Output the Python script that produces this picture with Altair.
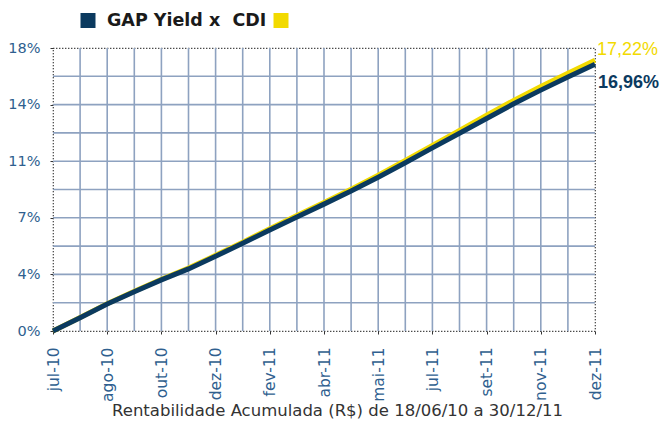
import altair as alt
import pandas as pd

# --- data ---
positions = list(range(21))
tick_labels = ["jul-10", "", "ago-10", "", "out-10", "", "dez-10", "", "fev-11", "",
               "abr-11", "", "mai-11", "", "jul-11", "", "set-11", "", "nov-11", "", "dez-11"]
gap_yield = [0.0, 0.85, 1.72, 2.50, 3.25, 3.95, 4.75, 5.58, 6.42, 7.25, 8.07,
             8.90, 9.78, 10.70, 11.65, 12.58, 13.52, 14.45, 15.32, 16.15, 16.96]
cdi = [0.0, 0.86, 1.74, 2.53, 3.29, 4.00, 4.81, 5.65, 6.50, 7.34, 8.17,
       9.02, 9.91, 10.85, 11.81, 12.76, 13.72, 14.67, 15.56, 16.40, 17.22]
grid_x = list(range(1, 20))
grid_y = [1.8, 3.6, 5.4, 7.2, 9.0, 10.8, 12.6, 14.4, 16.2]
y_ticks = [0, 1.8, 3.6, 5.4, 7.2, 9.0, 10.8, 12.6, 14.4, 16.2, 18]

NAVY = "#0b3a5f"
YELLOW = "#f2da00"
GRID = "#8ea2c0"
LABEL = "#2f5f8f"
FONT = "DejaVu Sans"
NUM_FONT = "Liberation Sans"

df = pd.DataFrame({"pos": positions, "gap": gap_yield, "cdi": cdi})
gx = pd.DataFrame({"x": grid_x})
gy = pd.DataFrame({"y": grid_y})

label_expr = "[" + ",".join('"%s"' % t for t in tick_labels) + "][datum.value]"

xscale = alt.Scale(domain=[0, 20], nice=False, zero=False)
yscale = alt.Scale(domain=[0, 18], nice=False)

x_axis = alt.Axis(values=positions, labelExpr=label_expr, labelAngle=270,
                  labelAlign="right", labelBaseline="middle", labelPadding=13,
                  labelColor=LABEL, labelFontSize=15.5, labelFont=FONT,
                  grid=False, domain=False, tickSize=3, tickColor="#333",
                  title="Rentabilidade Acumulada (R$) de 18/06/10 a 30/12/11",
                  titleFont=FONT, titleFontSize=16.5, titleFontWeight="normal",
                  titleColor="#333333", titleX=284, titleY=71, titleAlign="center",
                  titleBaseline="top")
y_axis = alt.Axis(values=y_ticks,
                  labelExpr="round(datum.value/1.8) % 2 == 0 ? format(datum.value, '.0f') + '%' : ''",
                  labelColor=LABEL, labelFontSize=14.5, labelFont=FONT, labelPadding=10,
                  grid=False, domain=False, tickSize=3, tickColor="#333", title=None)

vgrid = alt.Chart(gx).mark_rule(color=GRID, strokeWidth=1.6).encode(
    x=alt.X("x:Q", scale=xscale, axis=x_axis))
hgrid = alt.Chart(gy).mark_rule(color=GRID, strokeWidth=1.6).encode(
    y=alt.Y("y:Q", scale=yscale, axis=y_axis))

cdi_line = alt.Chart(df).mark_line(color=YELLOW, strokeWidth=5).encode(
    x=alt.X("pos:Q", scale=xscale), y=alt.Y("cdi:Q", scale=yscale))
gap_line = alt.Chart(df).mark_line(color=NAVY, strokeWidth=5).encode(
    x=alt.X("pos:Q", scale=xscale), y=alt.Y("gap:Q", scale=yscale))

last = df.tail(1).copy()
last["cdi_txt"] = last["cdi"].map(lambda v: f"{v:.2f}".replace(".", ",") + "%")
last["gap_txt"] = last["gap"].map(lambda v: f"{v:.2f}".replace(".", ",") + "%")

cdi_lbl = alt.Chart(last).mark_text(align="left", baseline="middle", dx=2, dy=-10,
                                    fontSize=18, font=NUM_FONT, color=YELLOW).encode(
    x=alt.X("pos:Q", scale=xscale), y=alt.Y("cdi:Q", scale=yscale), text="cdi_txt:N")
gap_lbl = alt.Chart(last).mark_text(align="left", baseline="middle", dx=3, dy=19,
                                    fontSize=18, font=NUM_FONT, fontWeight="bold", color=NAVY).encode(
    x=alt.X("pos:Q", scale=xscale), y=alt.Y("gap:Q", scale=yscale), text="gap_txt:N")

legend_df = pd.DataFrame({"t": ["GAP Yield x\u00a0 CDI"]})
legend_text = alt.Chart(legend_df).mark_text(align="left", baseline="middle", fontSize=17.5,
                                             font=FONT, fontWeight="bold", color="#1a1a1a").encode(
    x=alt.value(54), y=alt.value(-27), text="t:N")
sq1 = alt.Chart(legend_df).mark_square(size=225, color=NAVY, opacity=1).encode(
    x=alt.value(35), y=alt.value(-27.5))
sq2 = alt.Chart(legend_df).mark_square(size=225, color=YELLOW, opacity=1).encode(
    x=alt.value(228), y=alt.value(-27.5))

chart = alt.layer(vgrid, hgrid, cdi_line, gap_line, cdi_lbl, gap_lbl,
                  legend_text, sq1, sq2).properties(
    width=542, height=283,
    autosize=alt.AutoSizeParams(type="none"),
    padding={"left": 45, "top": 40, "right": 67, "bottom": 88},
).configure_view(stroke="black", strokeDash=[1, 2], strokeWidth=1.2)

chart.save("out.html", embed_options={"renderer": "svg", "actions": False})
